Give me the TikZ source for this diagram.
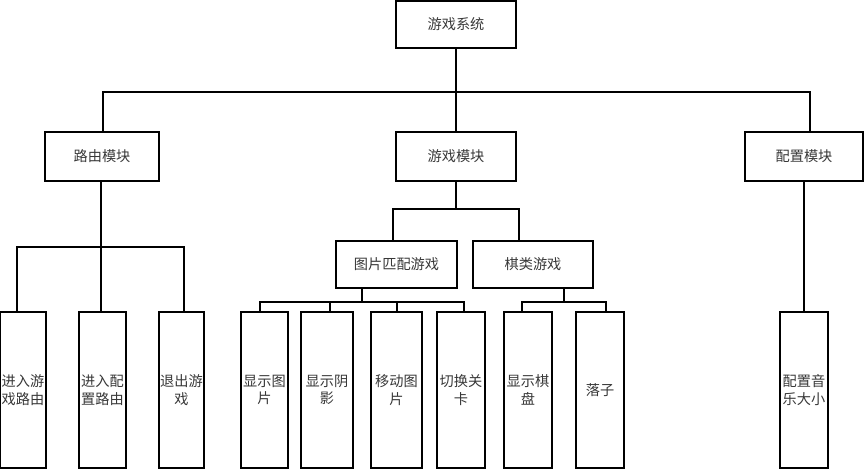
\documentclass[tikz,border=0pt]{standalone}
\usepackage{fontspec}
\newfontfamily\cjk{Noto Sans CJK SC}
\definecolor{txt}{rgb}{0.22,0.22,0.22}
\begin{document}
\begin{tikzpicture}[x=1pt,y=-1pt,
  box/.style={draw=black,line width=1.1pt,fill=white,inner sep=0pt,
    font=\cjk\fontsize{14.2}{17.5}\selectfont,text=txt,align=center},
  leaf/.style={box,minimum height=156pt},
  wire/.style={line width=2pt,line cap=rect}]
\useasboundingbox (0,0) rectangle (865,469);
% level 1
\node[box,minimum width=120pt,minimum height=47pt] (sys) at (456,24.5) {游戏系统};
% level 2
\node[box,minimum width=114pt,minimum height=49pt] (route) at (102,156.5) {路由模块};
\node[box,minimum width=120pt,minimum height=49pt] (game) at (456,156.5) {游戏模块};
\node[box,minimum width=118pt,minimum height=49pt] (conf) at (804,156.5) {配置模块};
% level 3
\node[box,minimum width=121pt,minimum height=47pt] (pic) at (396.5,264.5) {图片匹配游戏};
\node[box,minimum width=120pt,minimum height=47pt] (chess) at (533,264.5) {棋类游戏};
% leaves
\node[leaf,minimum width=46pt] (r1) at (23,390) {进入游\\戏路由};
\node[leaf,minimum width=47pt] (r2) at (102.5,390) {进入配\\置路由};
\node[leaf,minimum width=45pt] (r3) at (181.5,390) {退出游\\戏};
\node[leaf,minimum width=47pt] (p1) at (264.5,390) {显示图\\片};
\node[leaf,minimum width=52pt] (p2) at (327,390) {显示阴\\影};
\node[leaf,minimum width=51pt] (p3) at (396.5,390) {移动图\\片};
\node[leaf,minimum width=48pt] (p4) at (461,390) {切换关\\卡};
\node[leaf,minimum width=48pt] (c1) at (528,390) {显示棋\\盘};
\node[leaf,minimum width=48pt] (c2) at (600,390) {落子};
\node[leaf,minimum width=48pt] (m1) at (804,390) {配置音\\乐大小};
% bus coordinates
\coordinate (b1) at (0,91.5);
\coordinate (b2) at (0,246.5);
\coordinate (b3) at (0,209);
\coordinate (b4) at (0,301.5);
% connectors
\draw[wire] (sys.south) -- (game.north);
\draw[wire] ([xshift=1pt]route.north) |- ([xshift=6pt]conf.north |- b1) -- ([xshift=6pt]conf.north);
\draw[wire] ([xshift=-1.5pt]route.south) -- ([xshift=-1.5pt]route.south |- r2.north);
\draw[wire] ([xshift=-6pt]r1.north) |- ([xshift=2.5pt]r3.north |- b2) -- ([xshift=2.5pt]r3.north);
\draw[wire] (game.south) -- (game.south |- b3);
\draw[wire] ([xshift=-3.5pt]pic.north) |- ([xshift=-14pt]chess.north |- b3) -- ([xshift=-14pt]chess.north);
\draw[wire] ([xshift=-35pt]pic.south) -- ([xshift=-35pt]pic.south |- b4);
\draw[wire] ([xshift=-4.5pt]p1.north) |- ([xshift=3pt]p4.north |- b4) -- ([xshift=3pt]p4.north);
\draw[wire] ([xshift=3pt]p2.north) -- ([xshift=3pt]p2.north |- b4);
\draw[wire] (p3.north) -- (p3.north |- b4);
\draw[wire] ([xshift=31pt]chess.south) -- ([xshift=31pt]chess.south |- b4);
\draw[wire] ([xshift=-6pt]c1.north) |- ([xshift=6pt]c2.north |- b4) -- ([xshift=6pt]c2.north);
\draw[wire] (conf.south) -- (m1.north);
\end{tikzpicture}
\end{document}
